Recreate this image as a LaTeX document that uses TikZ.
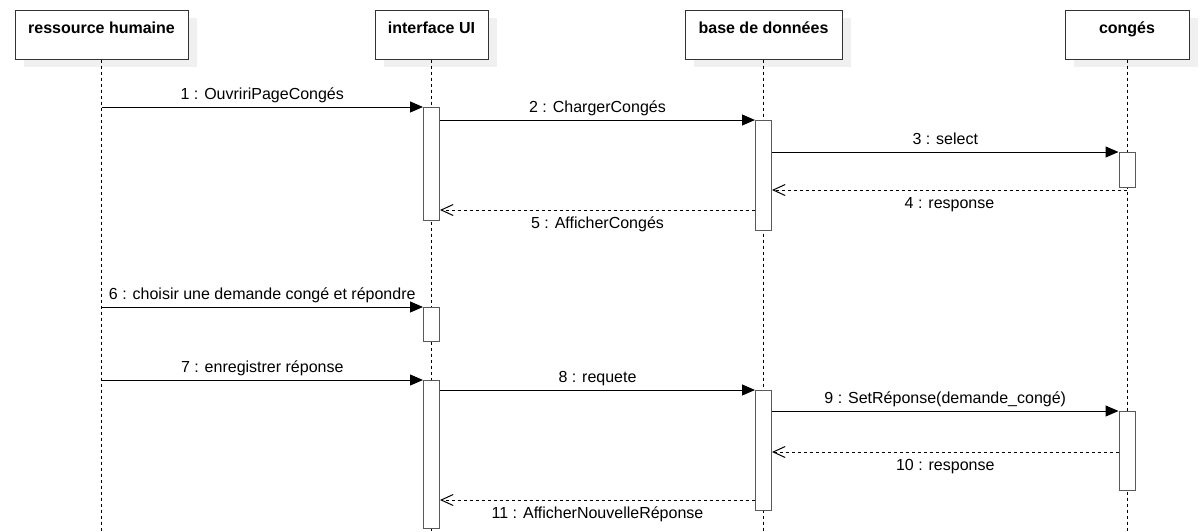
\documentclass[tikz,border=0pt]{standalone}
\usepackage{fontspec}
\setmainfont{Liberation Sans}
\usetikzlibrary{arrows.meta,shadows}

\begin{document}
\begin{tikzpicture}[x=1pt,y=-1pt,line width=1pt,
  every node/.style={font=\fontsize{16}{19}\selectfont},
  head/.style={draw=black!80,fill=white,minimum width=#1,minimum height=49pt,
    inner ysep=0pt,text height=23pt,text depth=26pt,
    font=\fontsize{16}{19}\selectfont\bfseries,
    drop shadow={shadow xshift=9pt,shadow yshift=-8pt,fill=black!6,opacity=1}},
  act/.style={draw=black!65,fill=white,minimum width=16pt,minimum height=#1,
    inner sep=0pt,anchor=north},
  life/.style={dash pattern=on 3pt off 3pt},
  msg/.style={-{Triangle[length=13pt,width=11pt]}},
  ret/.style={dash pattern=on 3pt off 3pt,-{Straight Barb[length=12pt,width=11pt]}},
  lbl/.style={text height=12pt,text depth=3.5pt}]

\useasboundingbox (0,0) rectangle (1202,531);

% Objects
\node[head=173pt] (rh) at (101.5,34.5) {ressource humaine};
\node[head=113pt] (ui) at (431.5,34.5) {interface UI};
\node[head=157pt] (bd) at (763.5,34.5) {base de données};
\node[head=124pt] (cg) at (1127,34.5) {congés};

% Lifelines
\coordinate (bot) at (0,531);
\foreach \n in {rh,ui,bd,cg}
  \draw[life] (\n.south) -- (\n.south |- bot);

% Activations
\node[act=113pt] (a1) at (431.5,107) {};
\node[act=110pt] (a2) at (763.5,120) {};
\node[act=35pt] (a3) at (1127,152) {};
\node[act=34pt] (a4) at (431.5,307) {};
\node[act=148pt] (a5) at (431.5,380) {};
\node[act=120pt] (a6) at (763.5,390) {};
\node[act=79pt] (a7) at (1127,411) {};

% Messages
\draw[msg] (rh.south |- a1.north) -- node[lbl,above]{1 : OuvririPageCongés} (a1.north west);
\draw[msg] (a1.east |- a2.north) -- node[lbl,above]{2 : ChargerCongés} (a2.north west);
\draw[msg] (a2.east |- a3.north) -- node[lbl,above]{3 : select} (a3.north west);
\coordinate (r4) at (1127,190);
\draw[ret] (r4) -- node[lbl,below=3pt]{4 : response} (a2.east |- r4);
\coordinate (r5) at (0,210);
\draw[ret] (a2.west |- r5) -- node[lbl,below=3pt]{5 : AfficherCongés} (a1.east |- r5);
\draw[msg] (rh.south |- a4.north) -- node[lbl,above]{6 : choisir une demande congé et répondre} (a4.north west);
\draw[msg] (rh.south |- a5.north) -- node[lbl,above]{7 : enregistrer réponse} (a5.north west);
\draw[msg] (a5.east |- a6.north) -- node[lbl,above]{8 : requete} (a6.north west);
\draw[msg] (a6.east |- a7.north) -- node[lbl,above]{9 : SetRéponse(demande\_congé)} (a7.north west);
\coordinate (r10) at (0,452);
\draw[ret] (a7.west |- r10) -- node[lbl,below=3pt]{10 : response} (a6.east |- r10);
\coordinate (r11) at (0,500);
\draw[ret] (a6.west |- r11) -- node[lbl,below=3pt]{11 : AfficherNouvelleRéponse} (a5.east |- r11);

\end{tikzpicture}
\end{document}
